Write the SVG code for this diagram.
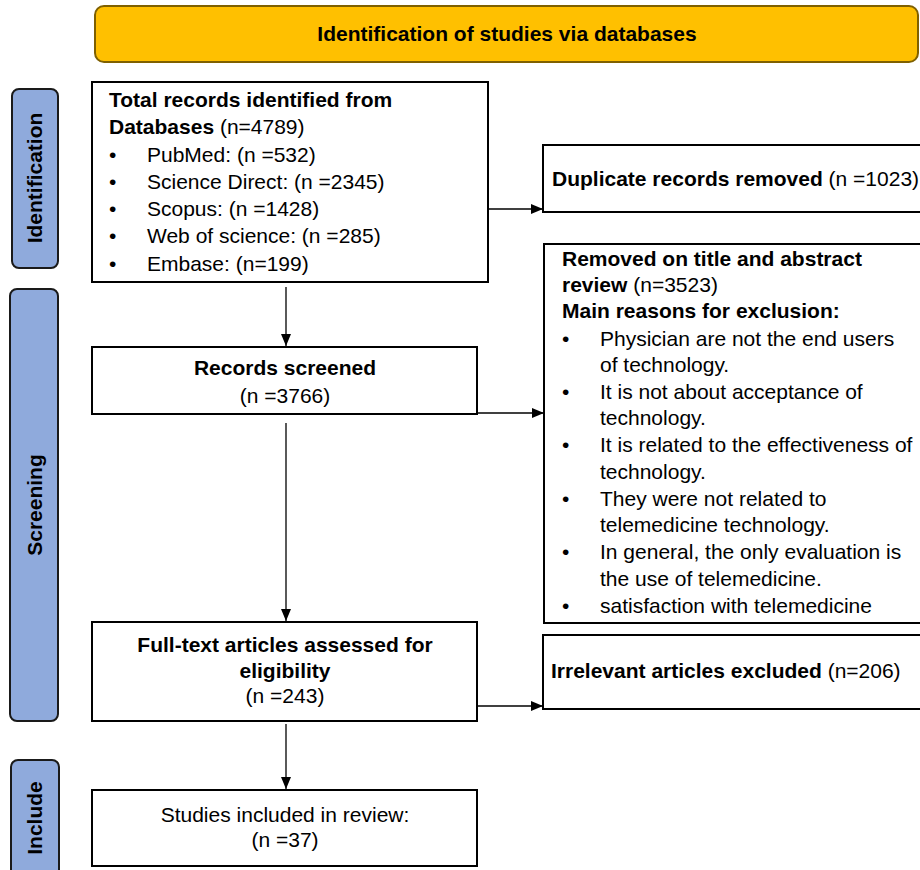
<svg xmlns="http://www.w3.org/2000/svg" width="920" height="870" viewBox="0 0 920 870">
<style>
text{font-family:"Liberation Sans",Arial,sans-serif;font-size:21px;fill:#000}
.b{font-weight:bold}
.box{fill:#fff;stroke:#000;stroke-width:2}
.lbl{fill:#8FAADC;stroke:#1a1a1a;stroke-width:2}
.c{text-anchor:middle}
.con{stroke:#000;stroke-width:1.3;fill:none;marker-end:url(#ah)}
</style>
<defs>
<marker id="ah" viewBox="0 0 12 10" refX="12" refY="5" markerWidth="12" markerHeight="10" markerUnits="userSpaceOnUse" orient="auto">
<path d="M0,0 L12,5 L0,10 Z" fill="#000"/>
</marker>
</defs>
<rect width="920" height="870" fill="#fff"/>
<g id="banner">
<rect x="95" y="6" width="823" height="56" rx="9" fill="#FFC000" stroke="#7F6000" stroke-width="2"/>
<text x="507" y="41" class="b c">Identification of studies via databases</text>
</g>
<g id="label-identification">
<rect x="12" y="89" width="46" height="179" rx="7" class="lbl"/>
<text class="b c" transform="translate(42,178) rotate(-90)">Identification</text>
</g>
<g id="label-screening">
<rect x="10" y="289" width="48" height="432" rx="7" class="lbl"/>
<text class="b c" transform="translate(42,505) rotate(-90)">Screening</text>
</g>
<g id="label-include">
<rect x="11" y="760" width="48" height="130" rx="7" class="lbl"/>
<text class="b c" transform="translate(42,818) rotate(-90)">Include</text>
</g>
<g id="n-total">
<rect x="92" y="82" width="396" height="200" class="box"/>
<text x="109" y="107" class="b">Total records identified from</text>
<text x="109" y="134"><tspan class="b">Databases</tspan> (n=4789)</text>
<text x="109" y="162">•</text><text x="147" y="162">PubMed: (n =532)</text>
<text x="109" y="189">•</text><text x="147" y="189">Science Direct: (n =2345)</text>
<text x="109" y="216">•</text><text x="147" y="216">Scopus: (n =1428)</text>
<text x="109" y="243">•</text><text x="147" y="243">Web of science: (n =285)</text>
<text x="109" y="271">•</text><text x="147" y="271">Embase: (n=199)</text>
</g>
<g id="n-duplicate">
<rect x="543" y="145" width="390" height="67" class="box"/>
<text x="552" y="186"><tspan class="b">Duplicate records removed</tspan> (n =1023)</text>
</g>
<g id="n-removed">
<rect x="544" y="244" width="390" height="379" class="box"/>
<text x="562" y="266" class="b">Removed on title and abstract</text>
<text x="562" y="292"><tspan class="b">review</tspan> (n=3523)</text>
<text x="562" y="318" class="b">Main reasons for exclusion:</text>
<text x="562" y="346">•</text><text x="600" y="346">Physician are not the end users</text>
<text x="600" y="372">of technology.</text>
<text x="562" y="399">•</text><text x="600" y="399">It is not about acceptance of</text>
<text x="600" y="425">technology.</text>
<text x="562" y="452">•</text><text x="600" y="452">It is related to the effectiveness of</text>
<text x="600" y="479">technology.</text>
<text x="562" y="506">•</text><text x="600" y="506">They were not related to</text>
<text x="600" y="532">telemedicine technology.</text>
<text x="562" y="559">•</text><text x="600" y="559">In general, the only evaluation is</text>
<text x="600" y="586">the use of telemedicine.</text>
<text x="562" y="613">•</text><text x="600" y="613">satisfaction with telemedicine</text>
</g>
<g id="n-screened">
<rect x="92" y="347" width="385" height="67" class="box"/>
<text x="285" y="375" class="b c">Records screened</text>
<text x="285" y="403" class="c">(n =3766)</text>
</g>
<g id="n-fulltext">
<rect x="92" y="622" width="385" height="99" class="box"/>
<text x="285" y="652" class="b c">Full-text articles assessed for</text>
<text x="285" y="678" class="b c">eligibility</text>
<text x="285" y="703" class="c">(n =243)</text>
</g>
<g id="n-irrelevant">
<rect x="543" y="635" width="390" height="74" class="box"/>
<text x="551" y="678"><tspan class="b">Irrelevant articles excluded</tspan> (n=206)</text>
</g>
<g id="n-included">
<rect x="92" y="790" width="385" height="76" class="box"/>
<text x="285" y="822" class="c">Studies included in review:</text>
<text x="285" y="847" class="c">(n =37)</text>
</g>
<g id="connectors">
<path d="M489,209 H543" class="con"/>
<path d="M286,287 V346" class="con"/>
<path d="M477,413 H544" class="con"/>
<path d="M286,423 V621" class="con"/>
<path d="M477,706 H543" class="con"/>
<path d="M286,724 V789" class="con"/>
</g>
</svg>
